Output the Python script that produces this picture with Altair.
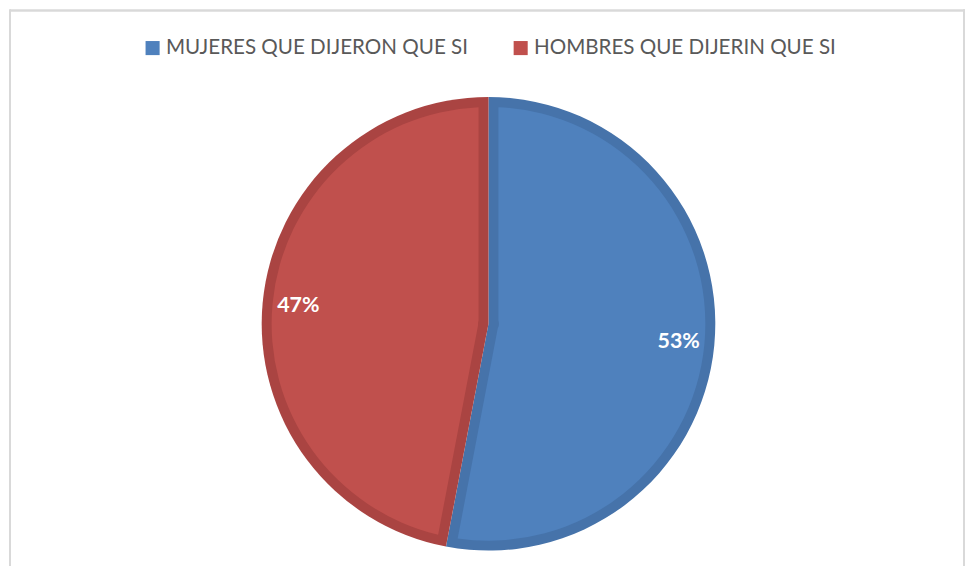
import altair as alt
import pandas as pd
import math

categorias = ["MUJERES QUE DIJERON QUE SI", "HOMBRES QUE DIJERIN QUE SI"]
valores = [53, 47]
etiquetas = ["53%", "47%"]
orden = [1, 2]

df = pd.DataFrame({"cat": categorias, "valor": valores, "etiqueta": etiquetas, "orden": orden})

color_claro = ["#4F81BD", "#C0504D"]
color_oscuro = ["#4673AA", "#AA4442"]

cx, cy = 483, 316
R = 228
banda = 10
r_int = 10.5
r_ext = R - banda
pad_r = (r_int ** 2 + r_ext ** 2) ** 0.5
pad = 2 * math.asin(banda / pad_r)

base = alt.Chart(df).encode(
    theta=alt.Theta("valor:Q", stack=True),
    order=alt.Order("orden:Q"),
)

oscuro = base.mark_arc(outerRadius=R).encode(
    color=alt.Color("cat:N", scale=alt.Scale(domain=categorias, range=color_oscuro), legend=None),
    x=alt.value(cx), y=alt.value(cy),
)

claro = base.mark_arc(outerRadius=r_ext, innerRadius=r_int, padAngle=pad).encode(
    color=alt.Color(
        "cat:N",
        scale=alt.Scale(domain=categorias, range=color_claro),
        legend=alt.Legend(
            title=None, orient="none", direction="horizontal",
            legendX=135, legendY=28,
            symbolType="square", symbolSize=200, symbolStrokeWidth=0,
            labelFont="Lato", labelFontSize=20.7, labelColor="#595959",
            labelLimit=500, columnPadding=42, labelOffset=3,
        ),
    ),
    x=alt.value(cx), y=alt.value(cy),
)

texto = base.mark_text(radius=192, font="Lato", fontSize=21.5, fontWeight="bold", color="white").encode(
    text="etiqueta:N",
    x=alt.value(cx), y=alt.value(cy),
)

marco_top = alt.Chart(df).mark_rule(color="#D9D9D9", strokeWidth=2).encode(
    x=alt.value(2), x2=alt.value(962), y=alt.value(1)
)
marco_izq = alt.Chart(df).mark_rule(color="#D9D9D9", strokeWidth=2).encode(
    x=alt.value(2), y=alt.value(0), y2=alt.value(560)
)
marco_der = alt.Chart(df).mark_rule(color="#D9D9D9", strokeWidth=2).encode(
    x=alt.value(961), y=alt.value(0), y2=alt.value(560)
)

chart = alt.layer(marco_top, marco_izq, marco_der, oscuro, claro, texto).resolve_scale(
    color="independent"
).properties(
    width=962, height=558, padding=0, autosize=alt.AutoSizeParams(type="none")
).configure_view(stroke=None)

chart.save("out.html", embed_options={"renderer": "svg", "actions": False})
